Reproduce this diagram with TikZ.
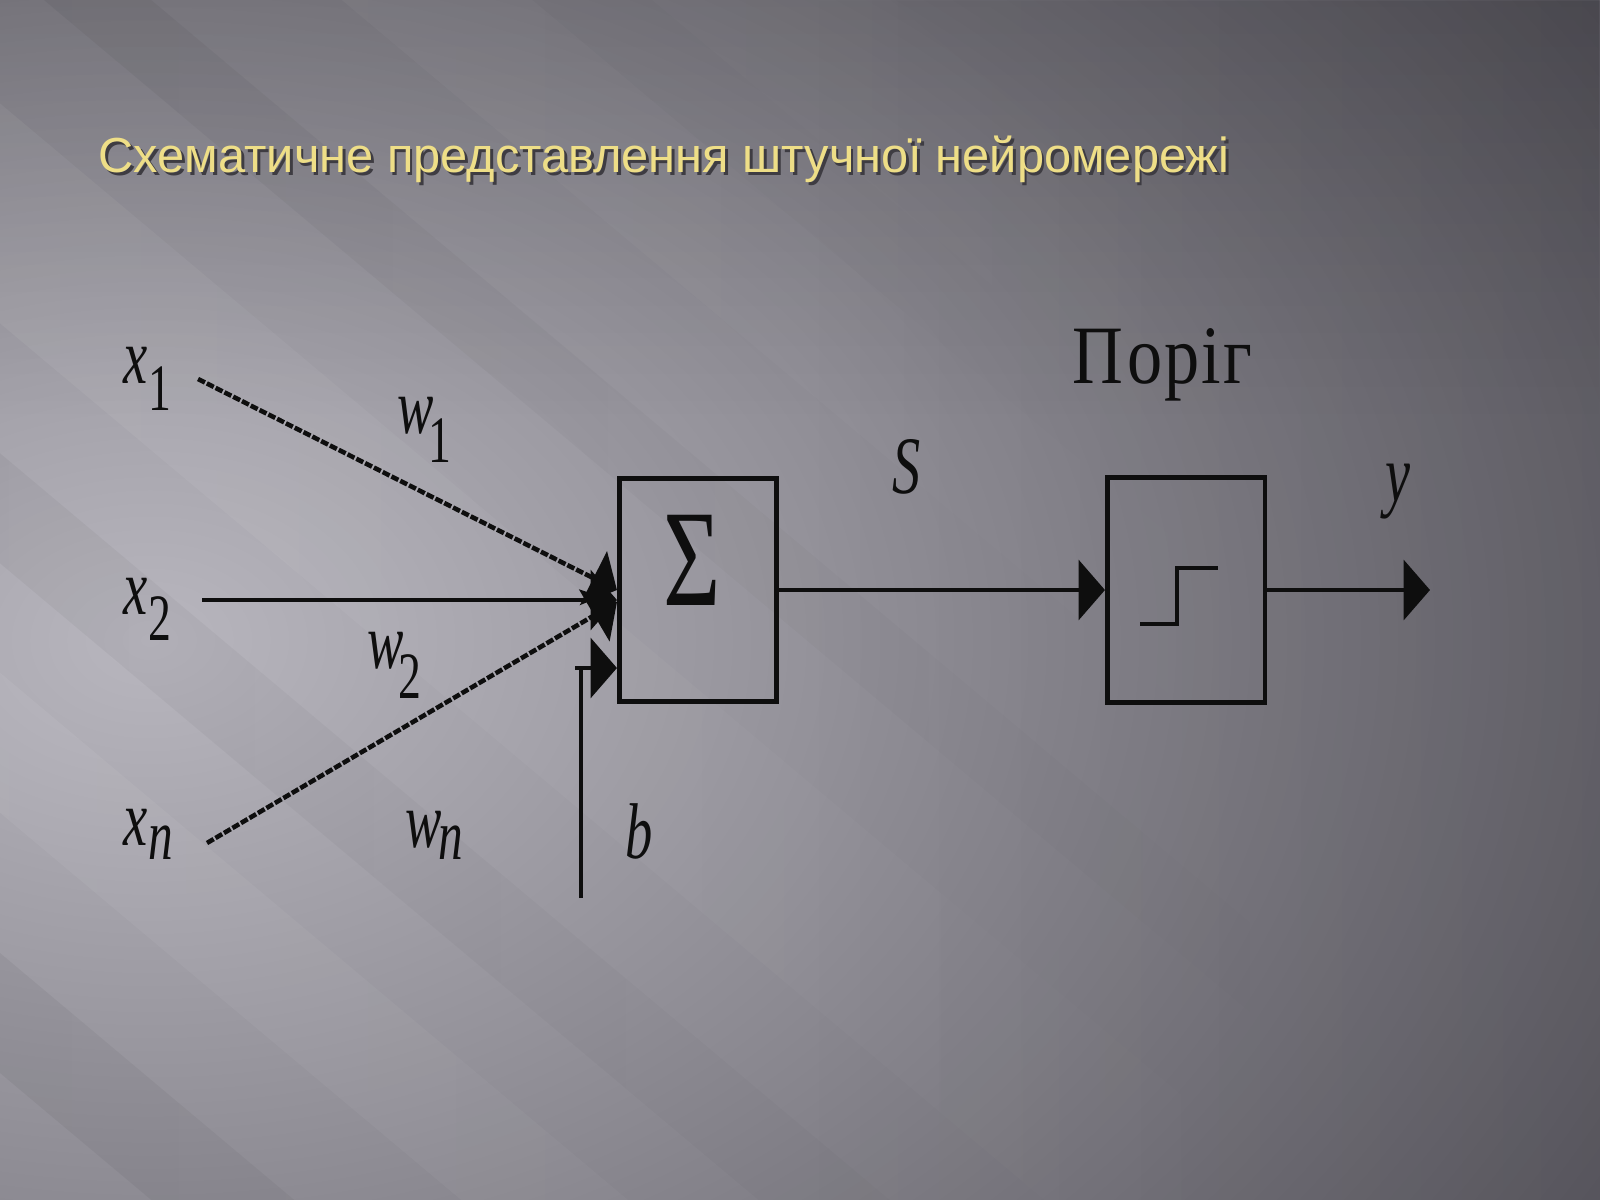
\documentclass[tikz,border=0pt]{standalone}
\usepackage{fontspec}
\usepackage{graphicx}
\setmainfont{Liberation Serif}
\newfontfamily\titlefont{Liberation Sans}
\usetikzlibrary{arrows.meta,fadings}
\definecolor{bgdark}{RGB}{92,90,98}
\definecolor{bglight}{RGB}{184,182,190}
\definecolor{titlecol}{RGB}{238,222,135}
\definecolor{tshadow}{RGB}{62,60,66}
\definecolor{ink}{RGB}{14,14,14}
\newcommand{\tallbox}[1]{\scalebox{1}[1.45]{#1}}
\newcommand{\subnum}[1]{{\upshape\fontsize{13}{13}\selectfont #1}}
\newcommand{\subit}[1]{{\itshape\fontsize{14}{14}\selectfont #1}}
\newcommand{\lvar}[4]{\tallbox{\fontsize{15.5}{16}\selectfont\itshape #1\kern#4\raisebox{-#3}{#2}}}
\newcommand{\titletext}{\resizebox{321.5pt}{\height}{\titlefont\fontsize{14}{14}\selectfont Схематичне представлення штучної нейромережі}}
\newcommand{\titleshadowed}{\rlap{\kern0.8pt\raisebox{-0.9pt}{\color{tshadow}\titletext}}{\color{titlecol}\titletext}}
\begin{document}
\begin{tikzpicture}[x=0.01cm,y=-0.01cm,
  wire/.style={draw=ink, line width=1.3pt},
  dwire/.style={wire, dash pattern=on 2.2pt off 0.6pt},
  tip/.style={-{Triangle[length=7.5pt,width=17pt]}},
  blockbox/.style={draw=ink, line width=1.3pt, inner sep=0pt},
  lbl/.style={inner sep=0pt, anchor=base west, text=ink},
  lightstreak/.style={fill=white, path fading=east},
  darkstreak/.style={fill=black, path fading=east}
]
\useasboundingbox (0,0) rectangle (1600,1200);
% background
\fill[bgdark] (0,0) rectangle (1600,1200);
\begin{scope}
  \clip (0,0) rectangle (1600,1200);
  \shade[inner color=bglight, outer color=bgdark] (150,640) ellipse (1700 and 1200);
  \fill[lightstreak, opacity=0.07] (-300,-700) -- ++(1600,1343) -- ++(0,160) -- ++(-1600,-1343) -- cycle;
  \fill[darkstreak, opacity=0.06] (-300,-380) -- ++(1600,1343) -- ++(0,90) -- ++(-1600,-1343) -- cycle;
  \fill[lightstreak, opacity=0.08] (-300,-150) -- ++(1600,1343) -- ++(0,220) -- ++(-1600,-1343) -- cycle;
  \fill[darkstreak, opacity=0.05] (-300,200) -- ++(1600,1343) -- ++(0,110) -- ++(-1600,-1343) -- cycle;
  \fill[lightstreak, opacity=0.07] (-300,420) -- ++(1600,1343) -- ++(0,140) -- ++(-1600,-1343) -- cycle;
  \fill[darkstreak, opacity=0.06] (-300,700) -- ++(1600,1343) -- ++(0,120) -- ++(-1600,-1343) -- cycle;
  \fill[lightstreak, opacity=0.05] (-300,-1000) -- ++(1600,1343) -- ++(0,200) -- ++(-1600,-1343) -- cycle;
  \fill[black, opacity=0.12, path fading=south] (0,0) rectangle (1600,420);
  \fill[black, opacity=0.08, path fading=west] (800,0) rectangle (1600,1200);
\end{scope}
% title
\node[lbl] (title) at (98,172) {\titleshadowed};
% blocks
\node[blockbox, minimum width=44.8pt, minimum height=63.5pt] (sum) at (698,590) {};
\node[inner sep=0pt, text=ink] (sigma) at (692,560) {\scalebox{1}[1.4]{\fontsize{28}{28}\selectfont Σ}};
\node[blockbox, minimum width=44.8pt, minimum height=64pt] (thr) at (1186,590) {};
\draw[wire] ([shift={(-46,34)}]thr.center) -- ([shift={(-9,34)}]thr.center)
  -- ([shift={(-9,-22)}]thr.center) -- ([shift={(32,-22)}]thr.center);
% labels
\node[lbl] (lx1) at (123,383) {\lvar{x}{\subnum{1}}{5.3pt}{0.3pt}};
\node[lbl] (lx2) at (123,614) {\lvar{x}{\subnum{2}}{5.1pt}{0.3pt}};
\node[lbl] (lxn) at (123,845) {\lvar{x}{\subit{n}}{2.9pt}{0.2pt}};
\node[lbl] (lw1) at (397,433) {\lvar{w}{\subnum{1}}{5.7pt}{-1.5pt}};
\node[lbl] (lw2) at (367,668) {\lvar{w}{\subnum{2}}{6pt}{-1.5pt}};
\node[lbl] (lwn) at (405,847) {\lvar{w}{\subit{n}}{2.5pt}{-1pt}};
\node[lbl] (lb) at (625,858) {\tallbox{\fontsize{15.5}{16}\selectfont\itshape b}};
\node[lbl] (lS) at (892,493) {\tallbox{\fontsize{16}{16}\selectfont\itshape S}};
\node[lbl] (ly) at (1385,501) {\tallbox{\fontsize{16}{16}\selectfont\itshape y}};
\node[lbl] (lthr) at (1072,383) {\scalebox{1}[1.18]{\fontsize{20}{20}\selectfont П\kern1pt о\kern0.6pt р\kern0.6pt і\kern0.6pt г}};
% connectors
\coordinate (x1s) at (198,379);
\coordinate (x2s) at (202,600);
\coordinate (xns) at (207,843);
\coordinate (bs) at (581,898);
\coordinate (bin) at ([shift={(0,78)}]sum.west);
\coordinate (bturn) at (bs |- bin);
\coordinate (bstub) at ([shift={(-6,0)}]bturn);
\coordinate (xnin) at ([shift={(0,12)}]sum.west);
\coordinate (yend) at (1430,590);
\draw[dwire, tip] (x1s) -- (sum.west);
\draw[wire, tip] (x2s) -- (x2s -| sum.west);
\draw[dwire, tip] (xns) -- (xnin);
\draw[wire, tip] (bs) -- (bturn) -- (bin);
\draw[wire] (bstub) -- (bturn);
\draw[wire, tip] (sum.east) -- (thr.west);
\draw[wire, tip] (thr.east) -- (yend);
\end{tikzpicture}
\end{document}
